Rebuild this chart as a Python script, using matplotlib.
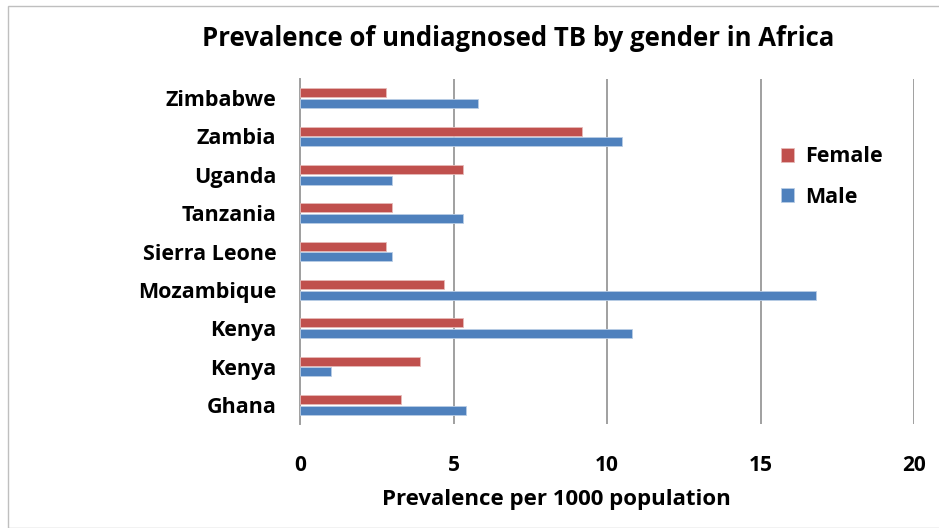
import numpy as np
import matplotlib.pyplot as plt
from matplotlib.patches import Rectangle

# dados (de baixo para cima)
countries = ['Ghana', 'Kenya', 'Kenya', 'Mozambique', 'Sierra Leone',
             'Tanzania', 'Uganda', 'Zambia', 'Zimbabwe']
female = [3.3, 3.9, 5.3, 4.7, 2.8, 3.0, 5.3, 9.2, 2.8]
male = [5.4, 1.0, 10.8, 16.8, 3.0, 5.3, 3.0, 10.5, 5.8]
xticks = [0, 5, 10, 15, 20]

plt.rcParams['font.family'] = ['Open Sans', 'DejaVu Sans']
plt.rcParams['font.weight'] = 'bold'

fig = plt.figure(figsize=(9.39, 5.28), dpi=100)
ax = fig.add_axes([300/939, 1 - 424/528, 614/939, 345/528])

y = np.arange(len(countries))
h = 0.23
ax.barh(y + 0.14, female, height=h, color='#c0504d', edgecolor='#e6b9b8', linewidth=0.6, label='Female', zorder=3)
ax.barh(y - 0.14, male, height=h, color='#4f81bd', edgecolor='#b9cde5', linewidth=0.6, label='Male', zorder=3)

ax.set_xlim(0, 20)
ax.set_ylim(-0.5, len(countries) - 0.5)
ax.set_xticks(xticks)
ax.set_xticklabels([str(t) for t in xticks], fontsize=15, fontweight='bold')
ax.set_yticks(y)
ax.set_yticklabels(countries, fontsize=15.5, fontweight='bold')
ax.tick_params(axis='x', length=0, pad=22)
ax.tick_params(axis='y', length=0, pad=17)
ax.grid(axis='x', color='#a0a0a0', linewidth=1.4, zorder=0)
for s in ['top', 'right', 'bottom']:
    ax.spines[s].set_visible(False)
ax.spines['left'].set_color('#a0a0a0')
ax.spines['left'].set_linewidth(1.4)

# legenda sem moldura, a direita
handles, labels = ax.get_legend_handles_labels()
leg = fig.legend(handles, labels, loc='center left', bbox_to_anchor=(762/939, 1 - 177/528),
                 frameon=False, fontsize=15.5, handlelength=0.6, handleheight=0.6,
                 labelspacing=0.9, handletextpad=0.5)
for t in leg.get_texts():
    t.set_fontweight('bold')

fig.text(518/939, 1 - 38/528, 'Prevalence of undiagnosed TB by gender in Africa',
         ha='center', va='center', fontsize=18.5, fontweight='bold')
fig.text(556/939, 1 - 500/528, 'Prevalence per 1000 population',
         ha='center', va='center', fontsize=16, fontweight='bold')

# borda da area do grafico
fig.patches.append(Rectangle((8/939, 0.0), 1.0, 1 - 6/528, transform=fig.transFigure,
                             fill=False, edgecolor='#bfbfbf', linewidth=1.0))

fig.savefig('out.png', dpi=100)
